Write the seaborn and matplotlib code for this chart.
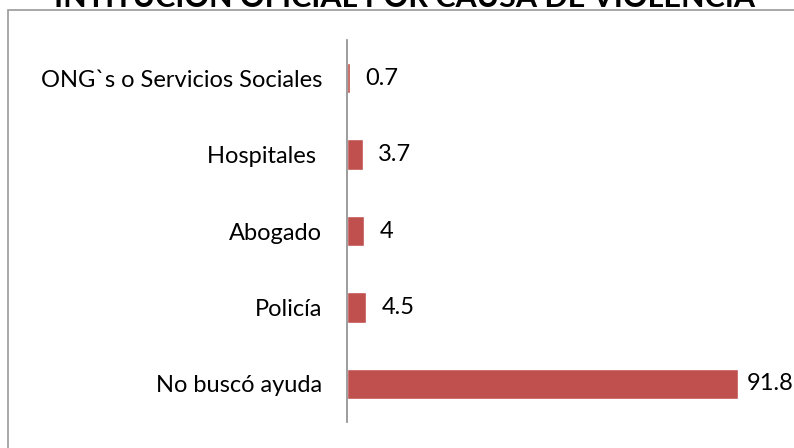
import matplotlib
matplotlib.use("Agg")
import matplotlib.pyplot as plt
import seaborn as sns
import pandas as pd
from matplotlib.patches import Rectangle

categorias = ["ONG`s o Servicios Sociales", "Hospitales ", "Abogado", "Policía", "No buscó ayuda"]
porcentajes = [0.7, 3.7, 4, 4.5, 91.8]
etiquetas = ["0.7", "3.7", "4", "4.5", "91.8"]
titulo = "INTITUCION OFICIAL POR CAUSA DE VIOLENCIA"

sns.set_style("white")
plt.rcParams["font.family"] = ["Lato", "DejaVu Sans"]
plt.rcParams["text.color"] = "black"
plt.rcParams["ytick.color"] = "black"
plt.rcParams["ytick.labelcolor"] = "black"

df = pd.DataFrame({"categoria": categorias, "valor": porcentajes})

fig = plt.figure(figsize=(7.94, 4.48), dpi=100)
fig.patches.append(Rectangle((8 / 794, -0.1), 1.0, 1 - 10 / 448 + 0.1,
                             transform=fig.transFigure, fill=False,
                             edgecolor="#9a9a9a", linewidth=1.2))
ax = fig.add_axes([347 / 794, 26 / 448, 426 / 794, 382 / 448])

sns.barplot(data=df, x="valor", y="categoria", color="#C0504D",
            width=0.4, ax=ax, saturation=1)

ax.set_xlim(0, 100)
ax.set_xlabel("")
ax.set_ylabel("")
ax.set_xticks([])
for s in ["top", "right", "bottom"]:
    ax.spines[s].set_visible(False)
ax.spines["left"].set_color("#8c8c8c")
ax.spines["left"].set_linewidth(1.2)
ax.tick_params(axis="y", length=0, pad=18, labelsize=17)

for i, (v, t) in enumerate(zip(porcentajes, etiquetas)):
    # la etiqueta larga queda pegada al borde
    dx = 6 if v > 90 else 11
    ax.annotate(t, (v, i), xytext=(dx, 0), textcoords="offset points",
                va="center", ha="left", fontsize=17)

# el título queda cortado arriba, igual que en el original
fig.text(405 / 794, 1 - 7 / 448, titulo, ha="center", va="baseline",
         fontsize=22, fontweight="bold")

fig.savefig("out.png", dpi=100)
